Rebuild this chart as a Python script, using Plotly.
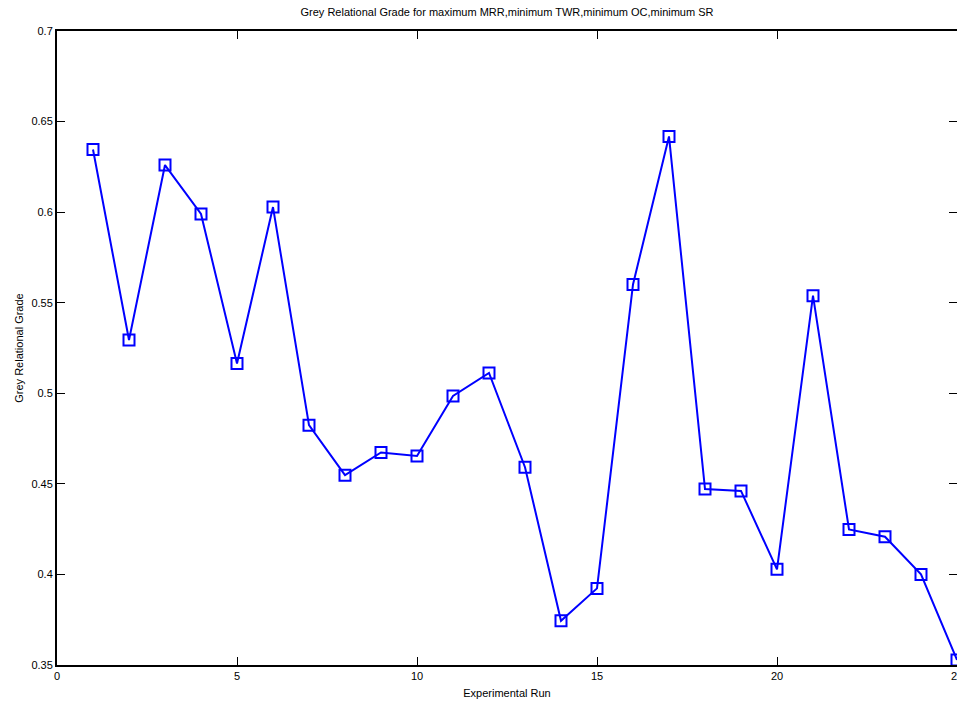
import plotly.graph_objects as go

runs = list(range(1, 26))
grade = [0.6346, 0.5294, 0.6260, 0.5990, 0.5164, 0.6028, 0.4824, 0.4548, 0.4673, 0.4654,
         0.4985, 0.5112, 0.4592, 0.3744, 0.3923, 0.5601, 0.6418, 0.4471, 0.4461, 0.4028,
         0.5539, 0.4248, 0.4208, 0.4000, 0.3528]

x_ticks = [0, 5, 10, 15, 20, 25]
y_ticks = [0.35, 0.4, 0.45, 0.5, 0.55, 0.6, 0.65, 0.7]
y_tick_text = ["0.35", "0.4", "0.45", "0.5", "0.55", "0.6", "0.65", "0.7"]

fig = go.Figure()
fig.add_trace(go.Scatter(
    x=runs, y=grade, mode="lines+markers",
    line=dict(color="#0000ff", width=2),
    marker=dict(symbol="square-open", size=11, color="#0000ff", line=dict(width=2, color="#0000ff")),
    cliponaxis=False, showlegend=False,
))
# invisible trace to activate the right-side tick axis
fig.add_trace(go.Scatter(x=[runs[0]], y=[grade[0]], yaxis="y2", mode="markers",
                         marker=dict(opacity=0), showlegend=False, hoverinfo="skip"))

font = dict(family="Liberation Sans, Arial, sans-serif", size=11, color="#000000")

fig.update_layout(
    width=957, height=709,
    margin=dict(l=57, r=0, t=31, b=44),
    paper_bgcolor="white", plot_bgcolor="white",
    font=font,
    title=dict(text="Grey Relational Grade for maximum MRR,minimum TWR,minimum OC,minimum SR",
               x=0.5, xref="paper", xanchor="center", y=0.983, yanchor="middle",
               font=dict(family="Liberation Sans, Arial, sans-serif", size=11, color="#000")),
    yaxis2=dict(overlaying="y", side="right", range=[0.35, 0.7], tickvals=y_ticks,
                ticks="inside", ticklen=8, tickwidth=1, tickcolor="#000",
                showticklabels=False, showline=False, showgrid=False, zeroline=False,
                automargin=False),
)

fig.update_xaxes(
    range=[0, 25.0], tickvals=x_ticks, ticktext=[str(v) for v in x_ticks],
    ticks="inside", ticklen=8, tickwidth=1, tickcolor="#000",
    showline=True, linecolor="#000", linewidth=2, mirror="ticks",
    showgrid=False, zeroline=False, automargin=False,
    ticklabeloverflow="allow",
    title=dict(text="Experimental Run", standoff=8, font=font),
    tickfont=font,
)
fig.update_layout(yaxis=dict(
    range=[0.35, 0.7], tickvals=y_ticks, ticktext=y_tick_text,
    ticks="inside", ticklen=8, tickwidth=1, tickcolor="#000",
    showline=True, linecolor="#000", linewidth=2, mirror=False,
    showgrid=False, zeroline=False, automargin=False,
    title=dict(text="Grey Relational Grade", standoff=6, font=font),
    tickfont=font,
))

fig.write_html("out.html")
